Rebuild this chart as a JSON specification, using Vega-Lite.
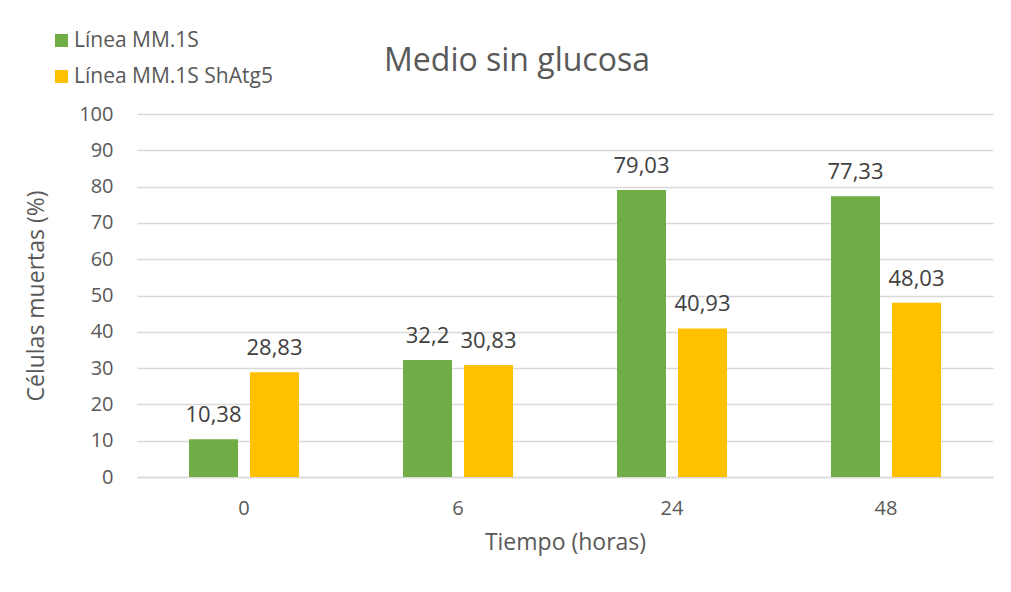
{
  "$schema": "https://vega.github.io/schema/vega-lite/v6.json",
  "autosize": {"type": "none"},
  "padding": {"left": 137, "top": 114, "right": 18, "bottom": 115},
  "width": 856,
  "height": 363,
  "background": "white",
  "title": {
    "text": "Medio sin glucosa",
    "anchor": "middle",
    "dx": -48,
    "offset": -48,
    "fontSize": 32,
    "fontWeight": "normal",
    "color": "#595959"
  },
  "data": {
    "values": [
      {"hora": "0", "serie": "Línea MM.1S", "valor": 10.38},
      {"hora": "0", "serie": "Línea MM.1S ShAtg5", "valor": 28.83},
      {"hora": "6", "serie": "Línea MM.1S", "valor": 32.2},
      {"hora": "6", "serie": "Línea MM.1S ShAtg5", "valor": 30.83},
      {"hora": "24", "serie": "Línea MM.1S", "valor": 79.03},
      {"hora": "24", "serie": "Línea MM.1S ShAtg5", "valor": 40.93},
      {"hora": "48", "serie": "Línea MM.1S", "valor": 77.33},
      {"hora": "48", "serie": "Línea MM.1S ShAtg5", "valor": 48.03}
    ]
  },
  "encoding": {
    "x": {
      "field": "hora",
      "type": "nominal",
      "sort": ["0", "6", "24", "48"],
      "scale": {"paddingInner": 0.486, "paddingOuter": 0.243},
      "axis": {
        "title": "Tiempo (horas)",
        "labelAngle": 0,
        "labelFontSize": 20,
        "labelColor": "#595959",
        "labelPadding": 21,
        "ticks": false,
        "domainColor": "#d9d9d9",
        "domainWidth": 1.5,
        "titleFontSize": 23,
        "titleFontWeight": "normal",
        "titleColor": "#595959",
        "titlePadding": 13
      }
    },
    "xOffset": {
      "field": "serie",
      "type": "nominal",
      "sort": ["Línea MM.1S", "Línea MM.1S ShAtg5"],
      "scale": {"paddingInner": 0.197, "paddingOuter": 0}
    },
    "y": {
      "field": "valor",
      "type": "quantitative",
      "scale": {"domain": [0, 100]},
      "axis": {
        "title": "Células muertas (%)",
        "values": [0, 10, 20, 30, 40, 50, 60, 70, 80, 90, 100],
        "labelFontSize": 20,
        "labelColor": "#595959",
        "labelPadding": 24,
        "ticks": false,
        "domain": false,
        "gridColor": "#d9d9d9",
        "gridWidth": 1.5,
        "titleFontSize": 23,
        "titleFontWeight": "normal",
        "titleColor": "#595959",
        "titlePadding": 30
      }
    }
  },
  "layer": [
    {
      "mark": {"type": "bar"},
      "encoding": {
        "color": {
          "field": "serie",
          "type": "nominal",
          "sort": ["Línea MM.1S", "Línea MM.1S ShAtg5"],
          "scale": {"range": ["#70AD47", "#FFC000"]},
          "legend": {
            "title": null,
            "orient": "none",
            "legendX": -86,
            "legendY": -84,
            "direction": "vertical",
            "symbolType": "square",
            "symbolSize": 169,
            "symbolStrokeWidth": 0,
            "symbolOpacity": 1,
            "labelFontSize": 21,
            "labelColor": "#595959",
            "labelOffset": 2,
            "labelLimit": 400,
            "rowPadding": 14,
            "padding": 0
          }
        }
      }
    },
    {
      "mark": {"type": "text", "baseline": "alphabetic", "dy": -17, "fontSize": 22, "color": "#404040"},
      "encoding": {
        "text": {"field": "valor", "type": "quantitative", "format": ""}
      }
    }
  ],
  "config": {
    "font": "Open Sans",
    "locale": {"number": {"decimal": ",", "thousands": ".", "grouping": [3], "currency": ["", " €"]}},
    "view": {"stroke": null}
  }
}
